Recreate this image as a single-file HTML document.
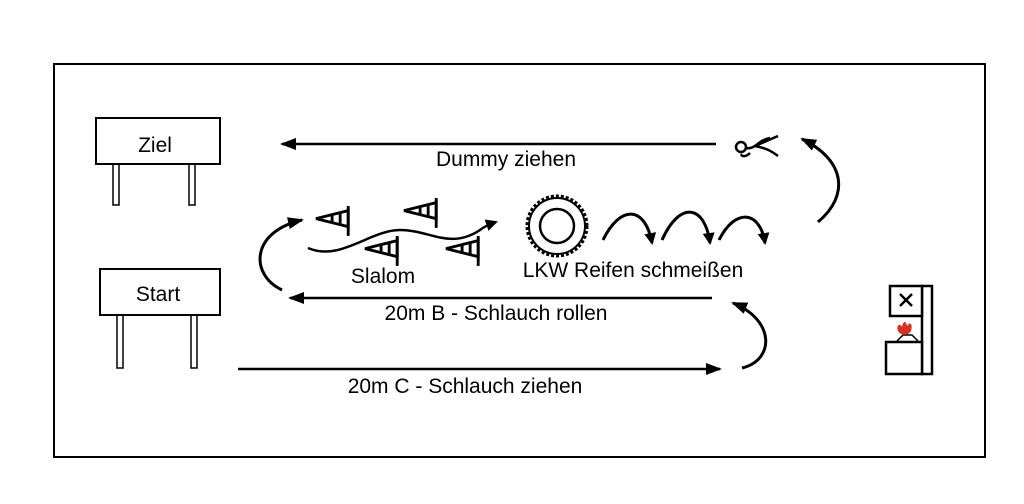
<!DOCTYPE html>
<html><head><meta charset="utf-8"><style>
html,body{margin:0;padding:0;background:#fff;}
svg{display:block;}
text{font-family:"Liberation Sans",sans-serif;font-size:21px;fill:#000;}
</style></head><body>
<svg width="1024" height="504" viewBox="0 0 1024 504" xmlns="http://www.w3.org/2000/svg">
<defs>
<marker id="ah" markerWidth="12" markerHeight="12" refX="10" refY="6" orient="auto" markerUnits="userSpaceOnUse">
<path d="M0,0 L12,6 L0,12 z" fill="#000"/>
</marker>
<marker id="ah2" markerWidth="16" markerHeight="12" refX="14" refY="6" orient="auto" markerUnits="userSpaceOnUse">
<path d="M0,0 L16,6 L0,12 z" fill="#000"/>
</marker>
</defs>
<rect x="54" y="64" width="931" height="393" fill="none" stroke="#000" stroke-width="2"/>

<rect x="113" y="164" width="6" height="41" fill="#fff" stroke="#000" stroke-width="1.5"/>
<rect x="189" y="164" width="6" height="41" fill="#fff" stroke="#000" stroke-width="1.5"/>
<rect x="96" y="118" width="124" height="46" fill="#fff" stroke="#000" stroke-width="2"/>
<text x="155" y="152" text-anchor="middle" font-size="24">Ziel</text>

<rect x="117" y="315" width="6" height="53" fill="#fff" stroke="#000" stroke-width="1.5"/>
<rect x="191" y="315" width="6" height="53" fill="#fff" stroke="#000" stroke-width="1.5"/>
<rect x="100" y="269" width="120" height="46" fill="#fff" stroke="#000" stroke-width="2"/>
<text x="158" y="301" text-anchor="middle" font-size="24">Start</text>

<line x1="716" y1="144" x2="282" y2="144" stroke="#000" stroke-width="2.5" marker-end="url(#ah2)"/>
<text x="506" y="166" text-anchor="middle">Dummy ziehen</text>
<line x1="712" y1="298" x2="290" y2="298" stroke="#000" stroke-width="2.5" marker-end="url(#ah2)"/>
<text x="496" y="320" text-anchor="middle">20m B - Schlauch rollen</text>
<line x1="238" y1="369" x2="720" y2="369" stroke="#000" stroke-width="2.5" marker-end="url(#ah2)"/>
<text x="465" y="393" text-anchor="middle">20m C - Schlauch ziehen</text>

<path d="M818,222 C850,195 845,160 802,139" fill="none" stroke="#000" stroke-width="3" marker-end="url(#ah2)"/>
<path d="M742,368 C775,360 775,320 733,303" fill="none" stroke="#000" stroke-width="3" marker-end="url(#ah2)"/>
<path d="M282,290 C250,275 250,232 302,220" fill="none" stroke="#000" stroke-width="3" marker-end="url(#ah2)"/>

<path d="M603,240 C620,205 645,205 652,243" fill="none" stroke="#000" stroke-width="3" marker-end="url(#ah)"/>
<path d="M662,240 C680,200 705,205 710,243" fill="none" stroke="#000" stroke-width="3" marker-end="url(#ah)"/>
<path d="M719,240 C735,208 760,210 765,243" fill="none" stroke="#000" stroke-width="3" marker-end="url(#ah)"/>

<path d="M308,248 C340,262 370,230 400,230 C430,230 450,250 480,230 C485,226 490,224 496,222" fill="none" stroke="#000" stroke-width="2.5" marker-end="url(#ah)"/>
<text x="383" y="283" text-anchor="middle">Slalom</text>

<g stroke="#000" stroke-width="2.5" fill="none">
<g transform="translate(316,206) scale(1.15)"><path d="M0,11 L28,4 L28,18 Z"/><line x1="28" y1="0" x2="28" y2="26"/><line x1="14" y1="7" x2="14" y2="15"/><line x1="21" y1="5" x2="21" y2="17"/></g>
<g transform="translate(404,198) scale(1.15)"><path d="M0,11 L28,4 L28,18 Z"/><line x1="28" y1="0" x2="28" y2="26"/><line x1="14" y1="7" x2="14" y2="15"/><line x1="21" y1="5" x2="21" y2="17"/></g>
<g transform="translate(365,236) scale(1.15)"><path d="M0,11 L28,4 L28,18 Z"/><line x1="28" y1="0" x2="28" y2="26"/><line x1="14" y1="7" x2="14" y2="15"/><line x1="21" y1="5" x2="21" y2="17"/></g>
<g transform="translate(446,236) scale(1.15)"><path d="M0,11 L28,4 L28,18 Z"/><line x1="28" y1="0" x2="28" y2="26"/><line x1="14" y1="7" x2="14" y2="15"/><line x1="21" y1="5" x2="21" y2="17"/></g>
</g>

<circle cx="557" cy="226" r="30" fill="none" stroke="#000" stroke-width="3" stroke-dasharray="3 2"/>
<circle cx="557" cy="226" r="28" fill="none" stroke="#000" stroke-width="2"/>
<circle cx="557" cy="226" r="17" fill="none" stroke="#000" stroke-width="2.5"/>
<text x="633" y="277" text-anchor="middle">LKW Reifen schmeißen</text>

<g stroke="#000" stroke-width="2.5" fill="none">
<circle cx="741" cy="147" r="5"/>
<path d="M746,148 C755,150 758,140 770,138 M755,146 L778,136 M755,146 C765,148 770,150 778,156 M750,153 C745,158 740,156 742,154"/>
</g>

<g stroke="#000" stroke-width="2.5" fill="#fff">
<rect x="922" y="286" width="10" height="88"/>
<rect x="890" y="286" width="32" height="30"/>
<rect x="886" y="342" width="36" height="32"/>
</g>
<path d="M900,294 L912,306 M912,294 L900,306" stroke="#000" stroke-width="2.5"/>
<path d="M897,341 L903,335 L912,335 L918,341" stroke="#000" stroke-width="1.5" fill="none"/>
<path d="M898,331 C896,325 900,323 902,327 C903,321 906,320 907,326 C910,321 913,324 911,331 C908,336 901,336 898,331 Z" fill="#d63020"/>
</svg>
</body></html>
